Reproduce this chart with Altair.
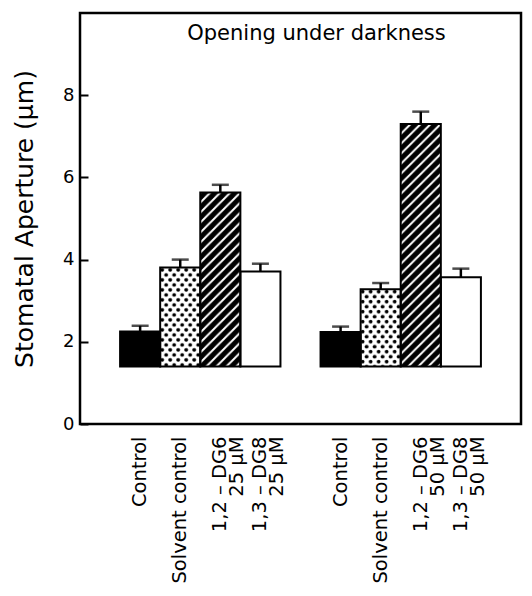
import base64
import altair as alt
import pandas as pd

# ---- data ----
treatments = ["Control", "Solvent control", "1,2 – DG6", "1,3 – DG8"]
concentrations = ["25 µM", "50 µM"]
means_25 = [2.25, 3.81, 5.63, 3.71]
errs_25 = [0.14, 0.19, 0.19, 0.19]
means_50 = [2.24, 3.28, 7.30, 3.57]
errs_50 = [0.13, 0.15, 0.30, 0.21]
baseline = 1.4
y_ticks = [0, 2, 4, 6, 8]

# ---- styles ----
fill_colors = ["black", "white", "black", "white"]


def svg_uri(svg):
    return "data:image/svg+xml;base64," + base64.b64encode(svg.encode()).decode()


dots_svg = (
    "<svg xmlns='http://www.w3.org/2000/svg' width='100%' height='100%'>"
    "<defs><pattern id='d' width='8' height='10' patternUnits='userSpaceOnUse'>"
    "<circle cx='2' cy='2.5' r='1.9' fill='black'/>"
    "<circle cx='6' cy='7.5' r='1.9' fill='black'/>"
    "</pattern></defs>"
    "<rect width='100%' height='100%' fill='white'/>"
    "<rect width='100%' height='100%' fill='url(#d)'/></svg>"
)
hatch_svg = (
    "<svg xmlns='http://www.w3.org/2000/svg' width='100%' height='100%'>"
    "<defs><pattern id='h' width='10' height='10' patternUnits='userSpaceOnUse'>"
    "<path d='M-2,2 L2,-2 M0,10 L10,0 M8,12 L12,8' stroke='white' stroke-width='2'/>"
    "</pattern></defs>"
    "<rect width='100%' height='100%' fill='black'/>"
    "<rect width='100%' height='100%' fill='url(#h)'/></svg>"
)
patterns = {treatments[1]: svg_uri(dots_svg), treatments[2]: svg_uri(hatch_svg)}

# ---- table ----
rows = []
slots = []
idx = 0
slots.append(f"{idx}:")
idx += 1
for conc, means, errs in [(concentrations[0], means_25, errs_25),
                          (concentrations[1], means_50, errs_50)]:
    for t, m, e in zip(treatments, means, errs):
        label = t if "DG" not in t else f"{t}|{conc}"
        key = f"{idx}:{label}"
        slots.append(key)
        rows.append({"key": key, "treatment": t, "conc": conc, "mean": m,
                     "upper": round(m + e, 3), "base": baseline,
                     "url": patterns.get(t, "")})
        idx += 1
    slots.append(f"{idx}:")
    idx += 1

df = pd.DataFrame(rows)

x_enc = alt.X(
    "key:N",
    scale=alt.Scale(domain=slots, paddingInner=0, paddingOuter=0),
    axis=alt.Axis(
        title=None, labelAngle=-90, ticks=False, domain=False,
        labelPadding=12, labelFontSize=19.5, labelFont="DejaVu Sans",
        labelColor="black", labelLineHeight=17, labelLimit=300,
        labelExpr="split(slice(datum.value, indexof(datum.value, ':') + 1), '|')",
    ),
)
y_scale = alt.Scale(domain=[0, 10], nice=False)
y_enc = alt.Y(
    "mean:Q", scale=y_scale,
    axis=alt.Axis(
        title="Stomatal Aperture (µm)", values=y_ticks, grid=False,
        domain=False, tickSize=8, tickWidth=2, tickColor="black", offset=-8,
        labelPadding=6, labelFontSize=18, labelFont="DejaVu Sans",
        labelColor="black", titleFontSize=25, titleFont="DejaVu Sans",
        titleFontWeight="normal", titleColor="black", titlePadding=25,
    ),
)

base = alt.Chart(df)

bars = base.mark_bar(stroke=None).encode(
    x=x_enc,
    y=y_enc,
    y2="base:Q",
    fill=alt.Fill("treatment:N", scale=alt.Scale(domain=treatments, range=fill_colors),
                  legend=None),
)

images = base.transform_filter("datum.url != ''").mark_image(aspect=False).encode(
    x="key:N", y="mean:Q", y2="base:Q", url="url:N"
)

outline = base.mark_bar(fill=None, fillOpacity=0, stroke="black", strokeWidth=2).encode(
    x="key:N", y="mean:Q", y2="base:Q"
)

err_line = base.mark_rule(color="black", strokeWidth=2.5).encode(
    x="key:N", y="mean:Q", y2="upper:Q"
)
err_cap = base.mark_tick(color="black", thickness=2.5, size=17).encode(
    x="key:N", y="upper:Q"
)

chart = alt.layer(bars, images, outline, err_line, err_cap).properties(
    width=441,
    height=411,
    autosize=alt.AutoSizeParams(type="none"),
    padding={"left": 72, "top": 5, "right": 3, "bottom": 164},
    title=alt.TitleParams(
        "Opening under darkness", orient="top", anchor="middle", frame="group",
        offset=-22, baseline="middle", fontSize=21, font="DejaVu Sans",
        fontWeight="normal", color="black", dx=16, dy=20,
    ),
).configure(
    background="white"
).configure_view(
    stroke="black", strokeWidth=2.5
)

chart.save("out.html", embed_options={"renderer": "svg", "actions": False})
